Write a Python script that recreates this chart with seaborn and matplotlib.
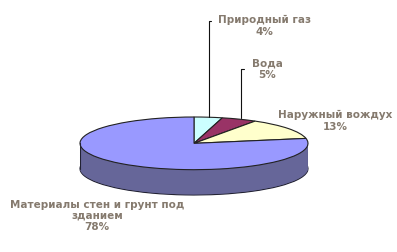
import numpy as np
import matplotlib
matplotlib.use("Agg")
import matplotlib.pyplot as plt
import seaborn as sns
from matplotlib import font_manager

# data
categories = ["Природный газ", "Вода", "Наружный вождух", "Материалы стен и грунт под\nзданием"]
values = [4, 5, 13, 78]
pct_labels = ["4%", "5%", "13%", "78%"]

sns.set_style("white")
names = {f.name for f in font_manager.fontManager.ttflist}
fam = "Liberation Sans Narrow" if "Liberation Sans Narrow" in names else "DejaVu Sans"
plt.rcParams['font.family'] = [fam, 'DejaVu Sans']

W, H = 397, 252
fig = plt.figure(figsize=(W / 100, H / 100), dpi=100)
fig.patch.set_facecolor("white")

top_colors = ["#ccffff", "#993366", "#ffffcc", "#9999ff"]
side_colors = ["#88aaaa", "#662244", "#aaaa88", "#666699"]

# pie axes: top ellipse spans x 80..308 px, y 117..169 px; side depth ~25 px
x0, x1 = 80, 308
ytop, ybot = 117, 195
ax = fig.add_axes([x0 / W, 1 - ybot / H, (x1 - x0) / W, (ybot - ytop) / H])
depth = 25 / 26.0

for i, d in enumerate(np.linspace(depth, 0.02, 40)):
    ax.pie(values, colors=side_colors, startangle=90, counterclock=False,
           center=(0, -d), radius=1,
           wedgeprops=dict(linewidth=0.8 if i == 0 else 0, edgecolor="#222233"))
ax.plot([-1, -1], [0, -depth], color="#222233", lw=0.8)
ax.plot([1, 1], [0, -depth], color="#222233", lw=0.8)
ax.pie(values, colors=top_colors, startangle=90, counterclock=False,
       center=(0, 0), radius=1,
       wedgeprops=dict(linewidth=0.8, edgecolor="#222222"))
ax.set_aspect("auto")
ax.set_xlim(-1.0, 1.0)
ax.set_ylim(-1 - depth, 1)
ax.axis("off")

# overlay for labels in pixel coords
ov = fig.add_axes([0, 0, 1, 1])
ov.set_xlim(0, W)
ov.set_ylim(H, 0)
ov.axis("off")
ov.patch.set_alpha(0)

tc = "#857a6e"
fs = 9.0 if fam != "DejaVu Sans" else 7.5
label_pos = [(264, 26), (267, 69), (335, 121), (97, 216)]
for cat, pct, (lx, ly) in zip(categories, pct_labels, label_pos):
    ov.text(lx, ly, cat + "\n" + pct, ha="center", va="center", color=tc,
            fontsize=fs, fontweight="bold", linespacing=1.15)

# leader lines
ov.plot([211, 209, 209], [21, 21, 117], color="#111111", lw=0.8)
ov.plot([244, 241, 241], [69, 69, 118], color="#111111", lw=0.8)

fig.savefig("out.png", dpi=100, facecolor="white")
